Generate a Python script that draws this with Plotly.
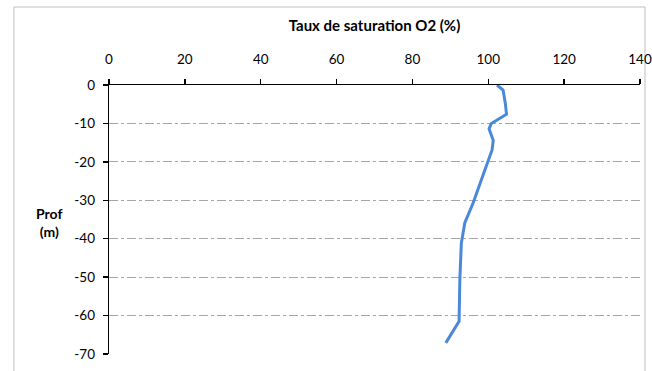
import plotly.graph_objects as go

depth = [0, -1.3, -4.8, -7.6, -10.0, -11.4, -14.4, -16.9, -22.1, -30.7, -35.9, -41.1, -50.6, -61.5, -67.1]
saturation = [102.3, 103.9, 104.5, 104.8, 100.8, 100.2, 101.3, 101.0, 99.1, 96.0, 93.8, 92.9, 92.5, 92.3, 88.8]

x_ticks = [0, 20, 40, 60, 80, 100, 120, 140]
y_ticks = [0, -10, -20, -30, -40, -50, -60, -70]
y_labels = ["0", "-10", "-20", "-30", "-40", "-50", "-60", "-70"]

FONT = "Lato"

fig = go.Figure()
fig.add_trace(go.Scatter(
    x=saturation, y=depth, mode="lines",
    line=dict(color="#4A88DA", width=3),
    showlegend=False, hoverinfo="skip",
))

fig.update_layout(
    width=652, height=371,
    margin=dict(l=109, r=12, t=85, b=17),
    paper_bgcolor="white", plot_bgcolor="white",
    font=dict(family=FONT, size=13.5, color="#000000"),
    xaxis=dict(
        side="top", range=[0, 140], tickvals=x_ticks, automargin=False,
        showgrid=False, zeroline=False,
        showline=True, linecolor="#000000", linewidth=1.3,
        ticks="outside", ticklen=5, tickwidth=1.3, tickcolor="#000000",
        ticklabelstandoff=9, ticklabeloverflow="allow",
        tickfont=dict(family=FONT, size=13.5),
        title=dict(text="<b>Taux de saturation O2 (%)</b>", font=dict(family=FONT, size=15), standoff=16),
        fixedrange=True,
    ),
    yaxis=dict(
        range=[-70, 0], tickvals=y_ticks, ticktext=y_labels, automargin=False,
        showgrid=True, gridcolor="#A6A6A6", griddash="dashdot", gridwidth=1,
        zeroline=False,
        showline=True, linecolor="#000000", linewidth=1.3,
        ticks="outside", ticklen=5, tickwidth=1.3, tickcolor="#000000",
        ticklabelstandoff=5, ticklabeloverflow="allow",
        tickfont=dict(family=FONT, size=13.5),
        fixedrange=True,
    ),
    shapes=[dict(
        type="rect", xref="paper", yref="paper",
        x0=-0.179, x1=1.0094, y0=-0.2, y1=1.29,
        line=dict(color="#BFBFBF", width=1), fillcolor="rgba(0,0,0,0)", layer="below",
    )],
    annotations=[dict(
        text="<b>Prof<br>(m)</b>", xref="paper", yref="paper",
        x=-0.113, y=0.487, xanchor="center", yanchor="middle",
        showarrow=False, align="center",
        font=dict(family=FONT, size=14, color="#000000"),
    )],
)

fig.write_html(
    "out.html",
    config={"displayModeBar": False, "staticPlot": True},
    post_script="document.body.style.margin='0';document.body.style.overflow='hidden';",
)
